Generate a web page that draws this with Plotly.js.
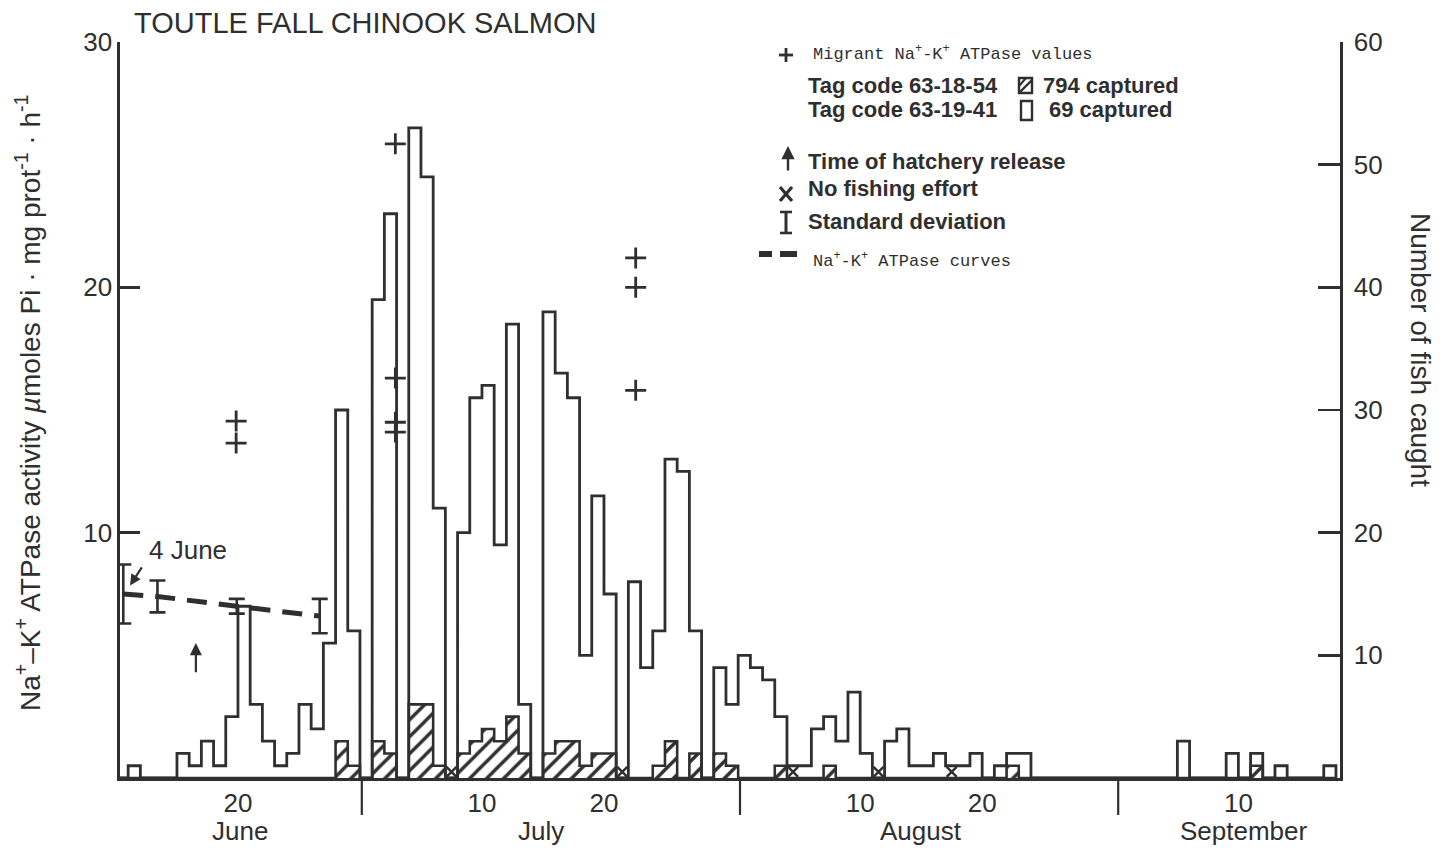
<!DOCTYPE html>
<html>
<head>
<meta charset="utf-8">
<script src="https://cdn.plot.ly/plotly-3.0.1.min.js"></script>
<style>
  html, body { margin: 0; padding: 0; background: #ffffff; }
  #chart { width: 1448px; height: 850px; }
</style>
</head>
<body>
<div id="chart"></div>
<script>
// Day numbers are counted from 1 June = day 1 (1 July = 31, 1 Aug = 62, 1 Sept = 93).
// Each daily catch occupies the interval [day, day + 1].

// Number of fish caught per day (open histogram)
const catchDay = [11,
  15, 16, 17, 18, 19, 20, 21, 22, 23, 24, 25, 26, 27, 28, 29,
  31, 32,
  34, 35, 36,
  38, 39, 40, 41, 42, 43,
  45, 46, 47, 48, 49, 50,
  52, 53, 54, 55, 56, 57,
  59, 60, 61, 62, 63, 64, 65, 66, 67, 68, 69, 70, 71,
  73, 74, 75, 76, 77, 78, 79, 80,
  82, 83, 84,
  97, 101, 103, 105, 109];
const catchTotal = [1,
  2, 1, 3, 1, 5, 14, 6, 3, 1, 2, 6, 4, 11, 30, 12,
  39, 46,
  53, 49, 22,
  20, 31, 32, 19, 37, 6,
  38, 33, 31, 10, 23, 15,
  16, 9, 12, 26, 25, 12,
  9, 6, 10, 9, 8, 5, 1, 1, 4, 5, 3, 7, 2,
  3, 4, 1, 1, 2, 1, 1, 2,
  1, 2, 2,
  3, 2, 2, 1, 1];

// Tag code 63-18-54 recoveries (hatched histogram)
const taggedDay = [28, 29, 31, 32, 34, 35, 36, 38, 39, 40, 41, 42, 43,
  45, 46, 47, 48, 49, 50, 54, 55, 57, 59, 60, 64, 68, 83, 103];
const taggedCount = [3, 1, 3, 2, 6, 6, 1, 2, 3, 4, 3, 5, 2,
  2, 3, 3, 1, 2, 2, 1, 3, 2, 2, 1, 1, 1, 1, 1];

// Days without fishing effort
const noEffortDay = [37, 51, 65, 72, 78];

// Na+-K+ ATPase curve (hatchery fish): mean and standard deviation
const curveDay = [10.6, 13.4, 19.9, 26.7];
const curveMean = [7.5, 7.4, 7.0, 6.6];
const curveSD = [1.2, 0.65, 0.3, 0.7];

// Individual migrant Na+-K+ ATPase values
const migrantDay = [19.85, 19.85, 32.9, 32.9, 32.9, 32.9, 52.6, 52.6, 52.6];
const migrantATPase = [14.55, 13.65, 25.85, 16.3, 14.5, 14.1, 21.2, 20.0, 15.8];

// Time of hatchery release
const releaseDay = 16.55;

// Axis labelling
const xTickVals = [20, 40, 50, 71, 81, 102];
const xTickText = ['20', '10', '20', '10', '20', '10'];
const monthNames = ['June', 'July', 'August', 'September'];
const monthCentre = [20.2, 44.8, 76, 102.5];
const monthEnd = [30.15, 61.15, 92.15];
const leftTickVals = [0, 10, 20, 30];
const leftTickText = ['', '10', '20', '30'];
const rightTickVals = [0, 10, 20, 30, 40, 50, 60];
const rightTickText = ['', '10', '20', '30', '40', '50', '60'];

// ---------------------------------------------------------------
const INK = '#2f2f2f';
const SANS = "'Liberation Sans', Arial, Helvetica, sans-serif";
const MONO = "'Liberation Mono', 'Courier New', monospace";

const W = 1448, H = 850;
const M = { l: 120, r: 108, t: 42, b: 72 };
const plotW = W - M.l - M.r, plotH = H - M.t - M.b;
// page pixel -> paper coordinates (for the key and free labels)
const px = v => (v - M.l) / plotW;
const py = v => (H - M.b - v) / plotH;

// expand sparse day lists into a full daily step series
function dailySeries(days, vals, first, last) {
  const lookup = {};
  days.forEach((d, i) => { lookup[d] = vals[i]; });
  const xs = [], ys = [];
  for (let d = first; d <= last; d++) {
    xs.push(d);
    ys.push(lookup[d] !== undefined ? lookup[d] : 0);
  }
  xs.push(last + 1);
  ys.push(0);
  return { xs, ys };
}

const total = dailySeries(catchDay, catchTotal, 10, 109);
const tagged = dailySeries(taggedDay, taggedCount, 10, 109);

const traces = [
  {
    type: 'scatter', mode: 'lines', yaxis: 'y2',
    x: total.xs, y: total.ys,
    line: { shape: 'hv', color: INK, width: 2.8 },
    hoverinfo: 'skip'
  },
  {
    type: 'scatter', mode: 'lines', yaxis: 'y2',
    x: tagged.xs, y: tagged.ys,
    line: { shape: 'hv', color: INK, width: 2.6 },
    fill: 'tozeroy',
    fillcolor: 'rgba(255,255,255,0)',
    fillpattern: { shape: '/', fgcolor: INK, bgcolor: 'rgba(255,255,255,0)', size: 12, solidity: 0.28 },
    hoverinfo: 'skip'
  },
  {
    type: 'scatter', mode: 'markers', yaxis: 'y2',
    x: noEffortDay.map(d => d + 0.5), y: noEffortDay.map(() => 0.5),
    marker: { symbol: 'x-thin', size: 10, line: { color: INK, width: 2.4 } },
    hoverinfo: 'skip'
  },
  {
    type: 'scatter', mode: 'lines', yaxis: 'y',
    x: curveDay, y: curveMean,
    line: { color: INK, width: 5, dash: '20px,12px' },
    error_y: { type: 'data', array: curveSD, visible: true, color: INK, thickness: 2.6, width: 8 },
    hoverinfo: 'skip'
  },
  {
    type: 'scatter', mode: 'markers', yaxis: 'y',
    x: migrantDay, y: migrantATPase,
    marker: { symbol: 'cross-thin', size: 15, line: { color: INK, width: 2.8 } },
    hoverinfo: 'skip'
  }
];

const annotations = [
  {
    xref: 'paper', yref: 'paper', x: px(132), y: py(23), xanchor: 'left', yanchor: 'middle',
    text: 'TOUTLE FALL CHINOOK SALMON', showarrow: false,
    font: { family: SANS, size: 29, color: INK }
  },
  {
    xref: 'paper', yref: 'paper', x: px(28), y: py(403), xanchor: 'center', yanchor: 'middle',
    textangle: -90, showarrow: false,
    text: 'Na<sup>+</sup>\u2013K<sup>+</sup> ATPase activity <i>\u00b5</i>moles Pi \u00b7 mg prot<sup>-1</sup> \u00b7 h<sup>-1</sup>',
    font: { family: SANS, size: 28, color: INK }
  },
  {
    xref: 'paper', yref: 'paper', x: px(1421), y: py(350), xanchor: 'center', yanchor: 'middle',
    textangle: 90, showarrow: false,
    text: 'Number of fish caught',
    font: { family: SANS, size: 28, color: INK }
  },
  {
    xref: 'paper', yref: 'paper', x: px(147), y: py(550), xanchor: 'left', yanchor: 'middle',
    text: '4 June', showarrow: false,
    font: { family: SANS, size: 26, color: INK }
  },
  {
    // arrow pointing at the 4 June value
    xref: 'x', yref: 'y', axref: 'x', ayref: 'y',
    x: curveDay[0] + 0.55, y: curveMean[0] + 0.35,
    ax: curveDay[0] + 1.6, ay: curveMean[0] + 1.15,
    text: '', showarrow: true, arrowhead: 2, arrowsize: 1, arrowwidth: 2.2, arrowcolor: INK
  },
  {
    // time of hatchery release
    xref: 'x', yref: 'y', axref: 'x', ayref: 'y',
    x: releaseDay, y: 5.5, ax: releaseDay, ay: 4.25,
    text: '', showarrow: true, arrowhead: 2, arrowsize: 1.1, arrowwidth: 2.2, arrowcolor: INK
  }
];

monthNames.forEach((m, i) => {
  annotations.push({
    xref: 'x', yref: 'paper', x: monthCentre[i], y: py(831), xanchor: 'center', yanchor: 'middle',
    text: m, showarrow: false, font: { family: SANS, size: 26, color: INK }
  });
});

// key
const keyText = [
  { x: 811, y: 53, t: 'Migrant Na<sup>+</sup>-K<sup>+</sup> ATPase values', mono: true },
  { x: 806, y: 85, t: '<b>Tag code 63-18-54</b>' },
  { x: 1041, y: 85, t: '<b>794 captured</b>' },
  { x: 806, y: 110, t: '<b>Tag code 63-19-41</b>' },
  { x: 1047, y: 110, t: '<b>69 captured</b>' },
  { x: 806, y: 162, t: '<b>Time of hatchery release</b>' },
  { x: 806, y: 188, t: '<b>No fishing effort</b>' },
  { x: 806, y: 222, t: '<b>Standard deviation</b>' },
  { x: 811, y: 260, t: 'Na<sup>+</sup>-K<sup>+</sup> ATPase curves', mono: true }
];
keyText.forEach(k => {
  annotations.push({
    xref: 'paper', yref: 'paper', x: px(k.x), y: py(k.y), xanchor: 'left', yanchor: 'middle',
    text: k.t, showarrow: false,
    font: k.mono ? { family: MONO, size: 17, color: INK } : { family: SANS, size: 22, color: INK }
  });
});
annotations.push({
  xref: 'paper', yref: 'paper', x: px(788), y: py(146), ax: 0, ay: 26,
  text: '', showarrow: true, arrowhead: 2, arrowsize: 1.1, arrowwidth: 2.4, arrowcolor: INK
});

const seg = (x0, y0, x1, y1, w, dash) => ({
  type: 'line', xref: 'paper', yref: 'paper',
  x0: px(x0), y0: py(y0), x1: px(x1), y1: py(y1),
  line: { color: INK, width: w, dash: dash || 'solid' }
});

const shapes = [
  // key symbols
  seg(779, 55, 793, 55, 2.8), seg(786, 48, 786, 62, 2.8),
  { type: 'rect', xref: 'paper', yref: 'paper', x0: px(1019), y0: py(93), x1: px(1032), y1: py(78),
    line: { color: INK, width: 2.4 } },
  seg(1019, 93, 1032, 80, 2.4), seg(1019, 86, 1026, 78, 2),
  { type: 'rect', xref: 'paper', yref: 'paper', x0: px(1021), y0: py(120), x1: px(1032), y1: py(101),
    line: { color: INK, width: 2.4 } },
  seg(780, 187, 792, 201, 3.2), seg(780, 201, 792, 187, 3.2),
  seg(786, 212, 786, 233, 3), seg(780, 212, 792, 212, 2.6), seg(780, 233, 792, 233, 2.6),
  seg(759, 254, 772, 254, 6), seg(780, 254, 797, 254, 6)
];
// month boundary ticks below the time axis
monthEnd.forEach(d => {
  shapes.push({
    type: 'line', xref: 'x', yref: 'paper', x0: d, x1: d, y0: 0, y1: -37 / plotH,
    line: { color: INK, width: 2.2 }
  });
});

const layout = {
  width: W, height: H, autosize: false,
  margin: M,
  paper_bgcolor: '#ffffff', plot_bgcolor: '#ffffff',
  showlegend: false,
  font: { family: SANS, color: INK },
  xaxis: {
    range: [10.33, 110.33], showgrid: false, zeroline: false,
    showline: true, linecolor: INK, linewidth: 3,
    ticks: '', tickvals: xTickVals, ticktext: xTickText,
    tickfont: { family: SANS, size: 26, color: INK }
  },
  yaxis: {
    range: [0, 30], showgrid: false, zeroline: false,
    showline: true, linecolor: INK, linewidth: 2.6,
    ticks: 'inside', ticklen: 20, tickwidth: 2.4, tickcolor: INK,
    tickvals: leftTickVals, ticktext: leftTickText,
    tickfont: { family: SANS, size: 26, color: INK }
  },
  yaxis2: {
    range: [0, 60], overlaying: 'y', side: 'right', showgrid: false, zeroline: false,
    showline: true, linecolor: INK, linewidth: 2.6,
    ticks: 'inside', ticklen: 22, tickwidth: 2.4, tickcolor: INK,
    ticklabelstandoff: 6,
    tickvals: rightTickVals, ticktext: rightTickText,
    tickfont: { family: SANS, size: 26, color: INK }
  },
  annotations: annotations,
  shapes: shapes
};

Plotly.newPlot('chart', traces, layout, { staticPlot: true, displayModeBar: false });
</script>
</body>
</html>
